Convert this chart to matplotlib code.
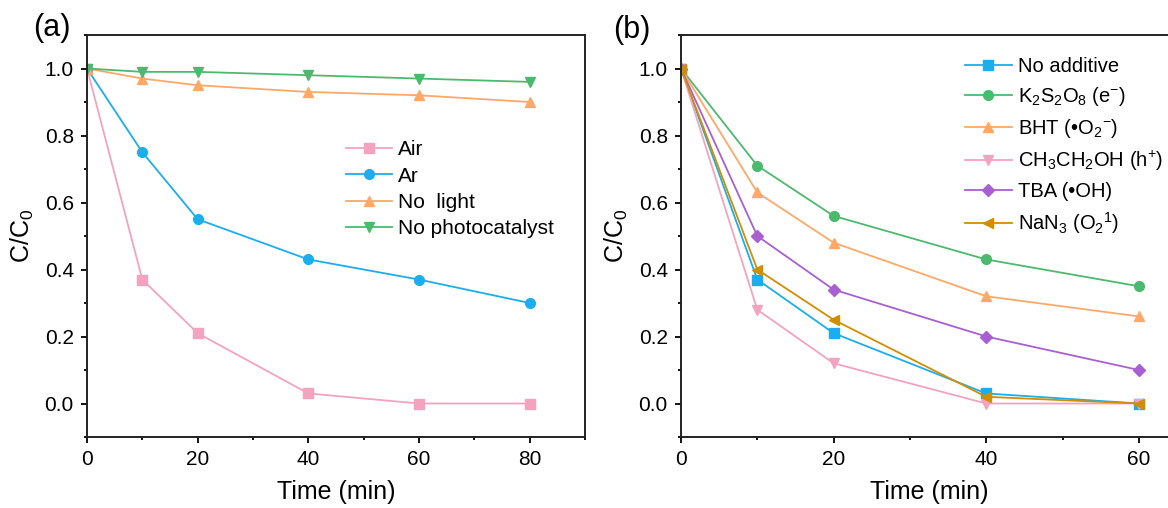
import numpy as np
import matplotlib
matplotlib.use('Agg')
import matplotlib.pyplot as plt
from matplotlib.ticker import MultipleLocator

plt.rcParams['font.family'] = ['Liberation Sans', 'DejaVu Sans']
plt.rcParams['mathtext.fontset'] = 'custom'
plt.rcParams['mathtext.rm'] = 'Liberation Sans'
plt.rcParams['mathtext.it'] = 'Liberation Sans:italic'
plt.rcParams['mathtext.bf'] = 'Liberation Sans:bold'

# (a) atmosphere / control experiments
time_a = [0, 10, 20, 40, 60, 80]
air = [1.0, 0.37, 0.21, 0.03, 0.0, 0.0]
argon = [1.0, 0.75, 0.55, 0.43, 0.37, 0.30]
no_light = [1.0, 0.97, 0.95, 0.93, 0.92, 0.90]
no_cat = [1.0, 0.99, 0.99, 0.98, 0.97, 0.96]

# (b) scavenger experiments
time_b = [0, 10, 20, 40, 60]
no_additive = [1.0, 0.37, 0.21, 0.03, 0.0]
k2s2o8 = [1.0, 0.71, 0.56, 0.43, 0.35]
bht = [1.0, 0.63, 0.48, 0.32, 0.26]
ethanol = [1.0, 0.28, 0.12, 0.0, 0.0]
tba = [1.0, 0.50, 0.34, 0.20, 0.10]
nan3 = [1.0, 0.40, 0.25, 0.02, 0.0]

pink = '#F4A3BF'
blue = '#1AAEEE'
orange = '#FFA867'
green = '#4CBA6E'
purple = '#A85FD2'
gold = '#D18E00'

fig = plt.figure(figsize=(11.68, 5.08), dpi=100)
ax1 = fig.add_axes([87/1168, 71/508, 498/1168, 402/508])
ax2 = fig.add_axes([681/1168, 71/508, 496/1168, 402/508])

lw = 1.3
ms = 7

ax1.plot(time_a, air, '-s', color=pink, lw=lw, ms=ms-0.5, label='Air')
ax1.plot(time_a, argon, '-o', color=blue, lw=lw, ms=ms, label='Ar')
ax1.plot(time_a, no_light, '-^', color=orange, lw=lw, ms=ms+0.5, label='No  light')
ax1.plot(time_a, no_cat, '-v', color=green, lw=lw, ms=ms+0.5, label='No photocatalyst')

ax2.plot(time_b, no_additive, '-s', color=blue, lw=lw, ms=ms-0.5, label='No additive')
ax2.plot(time_b, k2s2o8, '-o', color=green, lw=lw, ms=ms, label=r'K$_2$S$_2$O$_8$ (e$^{-}$)')
ax2.plot(time_b, bht, '-^', color=orange, lw=lw, ms=ms+0.5, label=r'BHT (•O$_2$$^{-}$)')
ax2.plot(time_b, ethanol, '-v', color=pink, lw=lw, ms=ms+0.5, label=r'CH$_3$CH$_2$OH (h$^{+}$)')
ax2.plot(time_b, tba, '-D', color=purple, lw=lw, ms=ms-1, label='TBA (•OH)')
ax2.plot(time_b, nan3, '-<', color=gold, lw=lw, ms=ms+0.5, label=r'NaN$_3$ (O$_2$$^{1}$)')

for ax, xmax in [(ax1, 90), (ax2, 65)]:
    ax.set_xlim(0, xmax)
    ax.set_ylim(-0.1, 1.1)
    ax.xaxis.set_major_locator(MultipleLocator(20))
    ax.xaxis.set_minor_locator(MultipleLocator(10))
    ax.yaxis.set_major_locator(MultipleLocator(0.2))
    ax.yaxis.set_minor_locator(MultipleLocator(0.1))
    ax.yaxis.set_major_formatter(matplotlib.ticker.FormatStrFormatter('%.1f'))
    ax.tick_params(which='major', direction='out', length=4.5, width=1.3,
                   labelsize=15, pad=5, top=False, right=False)
    ax.tick_params(which='minor', direction='out', length=2.5, width=1.3,
                   top=False, right=False)
    for s in ax.spines.values():
        s.set_linewidth(1.4)
        s.set_color('#222222')
    ax.set_xlabel('Time (min)', fontsize=18, labelpad=8)
    ax.set_ylabel('C/C$_0$', fontsize=18, labelpad=6)

ax1.legend(loc='upper left', bbox_to_anchor=(0.52, 0.738), frameon=False,
           fontsize=15, handlelength=2.2, handletextpad=0.3,
           labelspacing=0.35, borderpad=0, borderaxespad=0)
ax2.legend(loc='upper left', bbox_to_anchor=(0.573, 0.945), frameon=False,
           fontsize=14.5, handlelength=2.3, handletextpad=0.3,
           labelspacing=0.45, borderpad=0, borderaxespad=0)

fig.text(52/1168, 1 - 28/508, '(a)', fontsize=22, ha='center', va='center')
fig.text(632/1168, 1 - 30/508, '(b)', fontsize=22, ha='center', va='center')

fig.savefig('out.png', dpi=100)
